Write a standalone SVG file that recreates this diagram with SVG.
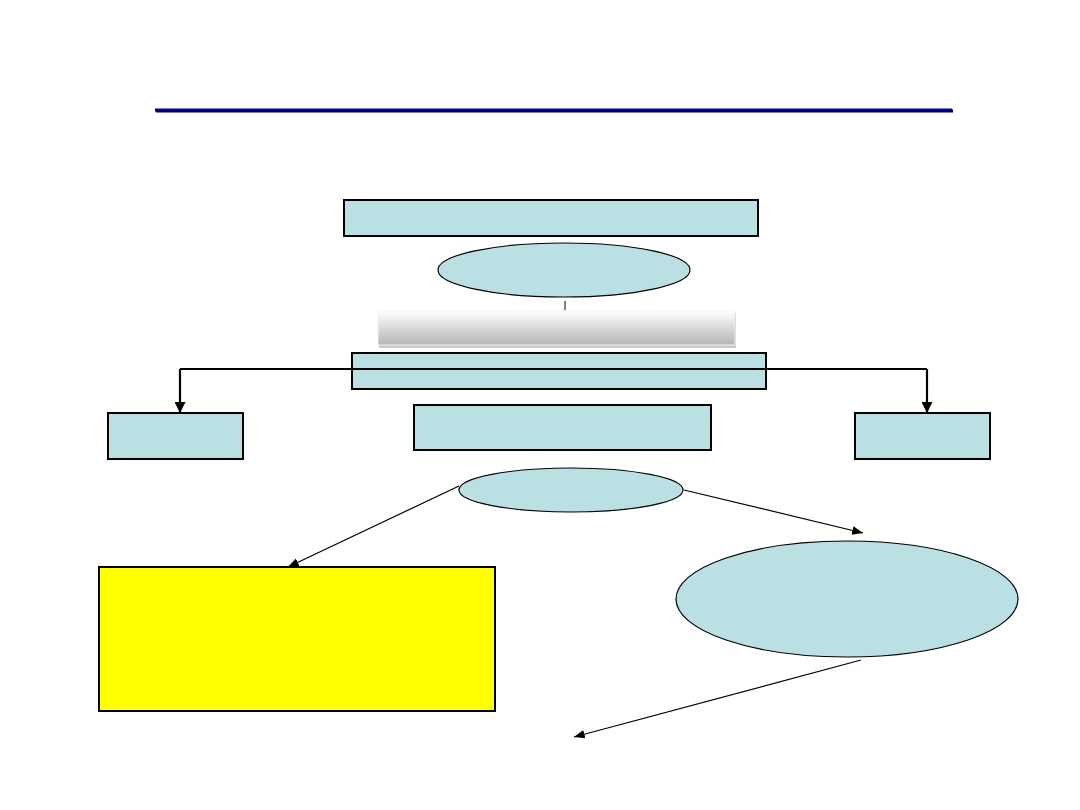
<svg xmlns="http://www.w3.org/2000/svg" width="1080" height="810" viewBox="0 0 1080 810">
<style>
.box{fill:#BBE0E3;stroke:#000;stroke-width:2}
.ell{fill:#BBE0E3;stroke:#000;stroke-width:1.2}
.thick{fill:none;stroke:#000;stroke-width:2.2}
.thin{fill:none;stroke:#000;stroke-width:1.2}
</style>
<defs>
<marker id="ah" viewBox="0 0 10 10" refX="10" refY="5" markerWidth="5" markerHeight="5" orient="auto" markerUnits="strokeWidth"><path d="M0,0 L10,5 L0,10 z" fill="#000"/></marker>
<marker id="ah2" viewBox="0 0 10 10" refX="10" refY="5" markerWidth="9" markerHeight="9" orient="auto" markerUnits="strokeWidth"><path d="M0,1 L10,5 L0,9 z" fill="#000"/></marker>
<linearGradient id="gr" x1="0" y1="0" x2="0" y2="1"><stop offset="0" stop-color="#ffffff"/><stop offset="1" stop-color="#b4b4b4"/></linearGradient>
</defs>
<rect width="1080" height="810" fill="#fff"/>
<g id="title-rule">
<line x1="156" y1="111" x2="953" y2="111" stroke="#000" stroke-width="3"/>
<line x1="155" y1="110" x2="952" y2="110" stroke="#000099" stroke-width="3"/>
</g>
<g id="top-box"><rect class="box" x="344" y="200" width="414" height="36"/></g>
<g id="ellipse-1"><ellipse class="ell" cx="564" cy="270" rx="126" ry="27"/></g>
<g id="gray-bar">
<rect x="379" y="313" width="357" height="35" fill="#c8c8c8"/>
<rect x="378" y="311" width="357" height="34" fill="url(#gr)" stroke="#f2f2f2" stroke-width="1"/>
</g>
<g id="mid-box-1"><rect class="box" x="352" y="353" width="414" height="36"/></g>
<g id="left-box"><rect class="box" x="108" y="413" width="135" height="46"/></g>
<g id="right-box"><rect class="box" x="855" y="413" width="135" height="46"/></g>
<g id="mid-box-2"><rect class="box" x="414" y="405" width="297" height="45"/></g>
<g id="ellipse-2"><ellipse class="ell" cx="571" cy="490" rx="112" ry="22"/></g>
<g id="big-ellipse"><ellipse class="ell" cx="847" cy="599" rx="171" ry="58"/></g>
<g id="yellow-box"><rect x="99" y="567" width="396" height="144" fill="#FFFF00" stroke="#000" stroke-width="2"/></g>
<g id="connectors">
<line x1="565" y1="301" x2="565" y2="310" stroke="#000" stroke-width="1"/>
<polyline class="thick" points="180,369 927,369"/>
<polyline class="thick" points="180,369 180,413" marker-end="url(#ah)"/>
<polyline class="thick" points="927,369 927,413" marker-end="url(#ah)"/>
<line class="thin" x1="459" y1="486" x2="288" y2="567" marker-end="url(#ah2)"/>
<line class="thin" x1="684" y1="490" x2="863" y2="533" marker-end="url(#ah2)"/>
<line class="thin" x1="861" y1="660" x2="574" y2="737" marker-end="url(#ah2)"/>
</g>
</svg>
